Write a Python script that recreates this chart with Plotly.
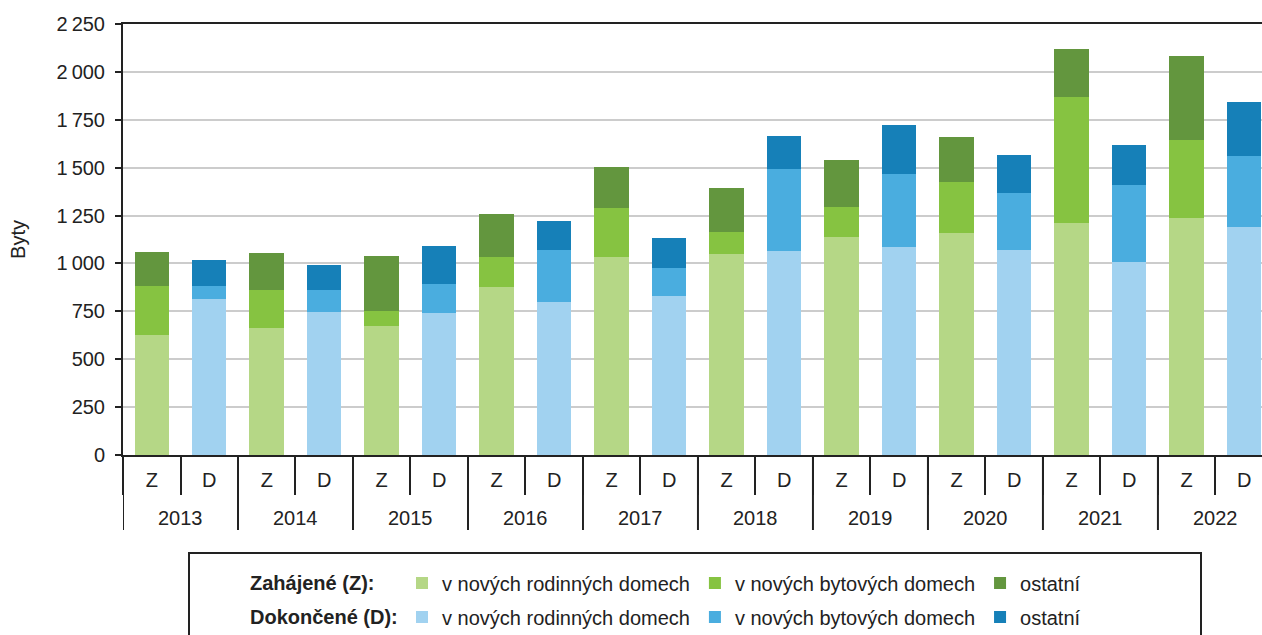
import plotly.graph_objects as go

# Byty (dwellings) per year: Z = zahájené (started), D = dokončené (completed)
years = ["2013", "2014", "2015", "2016", "2017", "2018", "2019", "2020", "2021", "2022"]

z_rodinne = [626, 664, 673, 879, 1032, 1049, 1138, 1159, 1211, 1237]
z_bytove = [256, 197, 79, 153, 257, 115, 157, 264, 656, 407]
z_ostatni = [176, 195, 288, 224, 213, 230, 246, 237, 254, 437]

d_rodinne = [813, 748, 740, 800, 832, 1063, 1086, 1070, 1006, 1190]
d_bytove = [69, 113, 154, 272, 144, 428, 381, 298, 403, 371]
d_ostatni = [136, 131, 199, 149, 155, 176, 254, 196, 209, 282]

labels = ["v nových rodinných domech", "v nových bytových domech", "ostatní"]
z_colors = ["#b5d786", "#86c341", "#63963e"]
d_colors = ["#a1d2f0", "#4aaddf", "#1680b8"]

# one category per bar: "2013 Z", "2013 D", ...
cats = [f"{y} {k}" for y in years for k in ("Z", "D")]
z_cats = cats[0::2]
d_cats = cats[1::2]

FONT = "Liberation Sans, Arial, sans-serif"
DARK = "#222222"

fig = go.Figure()
for vals, name, col in zip([z_rodinne, z_bytove, z_ostatni], labels, z_colors):
    fig.add_trace(go.Bar(x=z_cats, y=vals, name=name,
                         marker=dict(color=col, line=dict(width=0)), legend="legend"))
for vals, name, col in zip([d_rodinne, d_bytove, d_ostatni], labels, d_colors):
    fig.add_trace(go.Bar(x=d_cats, y=vals, name=name,
                         marker=dict(color=col, line=dict(width=0)), legend="legend2"))

W, H = 1262, 635
L, T, B = 123, 24, 180
PW, PH = W - L, H - T - B  # plot area in px


def px_x(px):
    return (px - L) / PW


def px_y(py):
    return (H - B - py) / PH


fig.update_layout(
    barmode="stack",
    bargap=0.4,
    width=W, height=H,
    margin=dict(l=L, r=0, t=T, b=B, autoexpand=False),
    plot_bgcolor="white", paper_bgcolor="white",
    font=dict(family=FONT, size=20, color=DARK),
    separators=",\u2009",
    legend=dict(orientation="h", x=px_x(402), y=px_y(583), xanchor="left", yanchor="middle",
                font=dict(size=20), traceorder="normal", bgcolor="rgba(0,0,0,0)"),
    legend2=dict(orientation="h", x=px_x(402), y=px_y(617), xanchor="left", yanchor="middle",
                 font=dict(size=20), traceorder="normal", bgcolor="rgba(0,0,0,0)"),
)

fig.update_yaxes(
    range=[0, 2250], dtick=250, tickformat=",d", automargin=False,
    showgrid=True, gridcolor="#cccccc", gridwidth=1.5,
    showline=True, linecolor=DARK, linewidth=2, mirror=True,
    ticks="outside", ticklen=6, tickcolor=DARK, tickwidth=2,
    ticklabelstandoff=6,
    title=dict(text="Byty", standoff=26, font=dict(size=20)),
    zeroline=False,
)
fig.update_xaxes(
    type="category", categoryorder="array", categoryarray=cats,
    tickvals=cats, ticktext=[c.split()[1] for c in cats],
    range=[-0.5, 19.31], automargin=False,
    showline=True, linecolor=DARK, linewidth=2, mirror=True,
    ticks="outside", ticklen=38, tickcolor=DARK, tickwidth=2,
    tickson="boundaries", ticklabelstandoff=6,
    tickfont=dict(size=20),
)

# year dividers and year labels below the Z/D row
for i, y in enumerate(years):
    fig.add_shape(type="line", xref="x", yref="paper",
                  x0=2 * i - 0.5, x1=2 * i - 0.5, y0=0, y1=px_y(530),
                  line=dict(color=DARK, width=2))
    fig.add_annotation(text=y, xref="x", yref="paper", x=2 * i + 0.5, y=px_y(518),
                       xanchor="center", yanchor="middle", showarrow=False,
                       font=dict(size=20))

# legend frame and row headings
fig.add_shape(type="rect", xref="paper", yref="paper",
              x0=px_x(189), x1=px_x(1201), y0=px_y(645), y1=px_y(553),
              line=dict(color=DARK, width=2), fillcolor="rgba(0,0,0,0)")
fig.add_annotation(text="<b>Zahájené (Z):</b>", xref="paper", yref="paper",
                   x=px_x(248), y=px_y(583), xanchor="left", yanchor="middle",
                   showarrow=False, font=dict(size=20))
fig.add_annotation(text="<b>Dokončené (D):</b>", xref="paper", yref="paper",
                   x=px_x(248), y=px_y(617), xanchor="left", yanchor="middle",
                   showarrow=False, font=dict(size=20))

# remove the browser's default page margin so the figure sits at the window's corner
fig.write_html("out.html", config={"displayModeBar": False},
               post_script="document.body.style.margin='0';")
